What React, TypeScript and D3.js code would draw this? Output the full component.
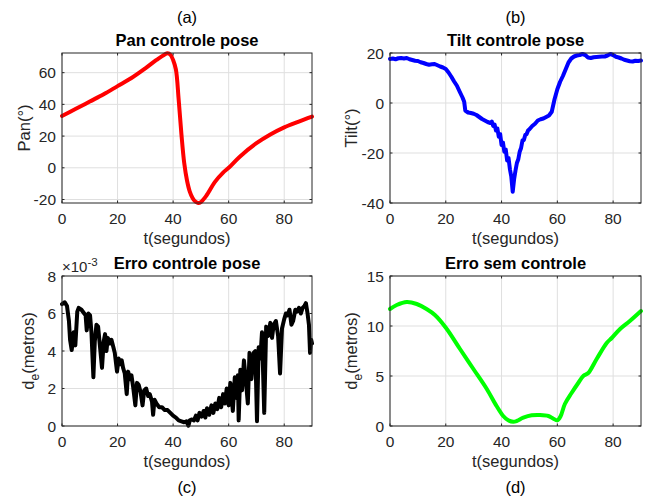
import * as React from "react";
import * as d3 from "d3";

// (a) pan angle, degrees
const panT = [0, 5, 10, 15, 20, 25, 30, 34, 37, 38, 39, 40, 41, 42, 43, 44, 45, 46, 47, 48, 49, 50, 52, 55, 58, 60, 64, 70, 75, 80, 85, 90];
const panV = [32.7, 37.2, 41.8, 46.4, 51.5, 56.6, 62.7, 68, 71.5, 72.2, 71.4, 68, 62, 43, 21, 3, -8, -15, -19, -21.3, -22.2, -21.6, -17.5, -9, -3, 0, 7, 15.5, 21, 25.5, 29, 32.3];

// (b) tilt angle, degrees
const tiltT = [0, 1, 2, 3, 4, 5, 6, 7, 8, 9, 10, 11, 12, 13, 14, 15, 16, 17, 18, 19, 20, 21, 22, 23, 24, 25, 26, 26.6, 27, 28, 29, 30, 31, 32, 33, 34, 35, 36, 36.5, 37, 37.5, 38, 38.5, 39, 39.5, 40, 40.5, 41, 41.5, 42, 42.5, 43, 43.5, 44, 44.5, 45, 45.5, 46, 46.5, 47, 47.5, 48, 48.5, 49, 49.5, 50, 51, 52, 53, 54, 55, 56, 57, 58, 59, 60, 61, 62, 63, 64, 65, 66, 67, 68, 69, 70, 71, 72, 73, 74, 75, 76, 77, 78, 79, 80, 81, 82, 83, 84, 85, 86, 87, 88, 89, 90];
const tiltV = [17.6, 17.8, 17.5, 17.9, 18.0, 17.8, 18.0, 17.5, 17.2, 16.9, 16.8, 16.3, 16.0, 15.6, 15.3, 15.5, 15.6, 15.1, 14.6, 14.2, 13.6, 12.2, 10.5, 8.6, 6.9, 4.5, 2.2, 0.5, -3.0, -3.8, -4.0, -4.3, -4.8, -5.6, -6.4, -7.0, -7.6, -8.0, -7.4, -9.2, -8.6, -11.0, -10.2, -13.5, -12.4, -16.8, -15.8, -19.5, -18.6, -23.0, -22.0, -26.5, -29.5, -35.5, -30.5, -27.0, -24.0, -22.5, -19.5, -18.0, -15.0, -14.8, -12.8, -12.4, -11.0, -10.5, -9.2, -8.3, -7.0, -6.5, -6.2, -5.6, -5.0, -3.5, 1.5, 5.5, 8.5, 10.8, 13.5, 16.2, 17.8, 18.6, 19.0, 19.2, 19.6, 19.2, 18.2, 18.0, 18.3, 18.4, 18.5, 18.6, 18.6, 19.0, 19.6, 19.2, 18.5, 18.2, 17.8, 17.3, 17.0, 16.7, 16.6, 16.9, 16.8, 17.0];

// (c) error with pose control, x10^-3 m
const erroT = [0, 1, 1.8, 2.5, 2.9, 3.5, 4.2, 4.8, 5.5, 6, 7, 8, 8.5, 8.9, 9.5, 10.1, 10.6, 11.3, 11.8, 12.4, 13, 13.7, 14.4, 15, 15.5, 16, 16.5, 17.2, 17.8, 18.5, 19, 19.8, 20.4, 21, 21.5, 22, 22.6, 23.3, 23.8, 24.5, 25, 25.6, 26.4, 27, 27.6, 28.3, 29, 29.6, 30.3, 31, 31.6, 32.4, 32.8, 33.3, 34, 35, 36, 37, 38, 39, 40, 41, 42, 43, 44, 44.8, 45.5, 46, 46.8, 47.5, 48.2, 48.8, 49.5, 50.3, 51, 51.6, 52.2, 53, 53.8, 54.5, 55.2, 55.9, 56.6, 57.3, 58, 58.6, 59.3, 60, 60.6, 61.5, 62.2, 62.8, 63.3, 63.6, 64.2, 64.8, 65.5, 66.2, 66.9, 67.5, 68.2, 69, 69.6, 70.2, 70.8, 71.4, 72, 72.8, 73.5, 74.2, 75, 75.6, 76.2, 77, 77.8, 78.5, 79.2, 80, 80.6, 81.2, 81.9, 82.6, 83.2, 84, 84.6, 85.3, 86, 86.6, 87.3, 87.8, 88.4, 88.9, 89.3, 89.7, 90];
const erroV = [6.5, 6.6, 6.4, 5.6, 4.6, 4.05, 5.0, 4.3, 6.1, 6.3, 6.2, 6.0, 5.9, 5.1, 6.0, 5.9, 5.0, 2.6, 4.5, 5.4, 5.3, 4.2, 3.1, 4.5, 4.9, 4.0, 4.7, 4.4, 4.6, 4.2, 3.9, 2.9, 3.6, 3.3, 3.5, 3.1, 2.8, 1.7, 2.9, 2.5, 2.7, 2.1, 1.1, 2.3, 2.2, 1.8, 1.1, 1.9, 2.0, 1.6, 1.7, 1.3, 0.6, 1.4, 1.2, 1.0, 1.0, 0.85, 0.85, 0.7, 0.55, 0.45, 0.3, 0.25, 0.2, 0.25, 0.02, 0.3, 0.35, 0.3, 0.55, 0.3, 0.7, 0.5, 0.8, 0.45, 0.95, 0.6, 1.1, 0.7, 1.2, 0.9, 1.5, 1.0, 1.7, 1.2, 2.0, 1.1, 2.3, 0.8, 2.6, 1.5, 2.7, 0.3, 3.0, 1.9, 3.5, 2.4, 1.2, 3.9, 2.5, 3.9, 4.0, 0.25, 4.2, 3.6, 5.0, 0.7, 5.3, 4.8, 5.5, 4.7, 5.4, 5.6, 4.8, 2.8, 5.2, 5.7, 6.0, 5.9, 6.2, 5.4, 5.6, 6.2, 6.1, 6.3, 6.0, 6.3, 6.4, 6.55, 6.0, 5.4, 3.9, 4.6, 4.4];

// (d) error without control, m
const semT = [0, 2.4, 6, 9.6, 13.1, 16.1, 20.1, 25.1, 29.9, 34.7, 38.2, 40.6, 42.4, 44.2, 45.4, 47.8, 50.8, 53.8, 56.8, 58.6, 60, 61.2, 62.7, 65.1, 67.5, 69.3, 71.1, 74.1, 77.7, 79.5, 82.5, 86, 90];
const semV = [11.7, 12.1, 12.4, 12.2, 11.7, 11.1, 9.8, 7.7, 5.7, 3.7, 2.0, 1.0, 0.57, 0.43, 0.5, 0.83, 1.07, 1.1, 1.0, 0.73, 0.57, 1.0, 2.2, 3.3, 4.3, 5.0, 5.3, 6.7, 8.3, 8.8, 9.7, 10.5, 11.5];

const xTicks = [0, 20, 40, 60, 80];

const FONT = "'Liberation Sans', Arial, Helvetica, sans-serif";
const AX = "#262626";

type PanelProps = {
  x0: number; x1: number; y0: number; y1: number;
  t: number[]; v: number[];
  yDomain: [number, number]; yTicks: number[];
  color: string; smooth: boolean;
  title: string; letter: string; letterTop: boolean;
  ylabel: React.ReactNode; ylabelX: number; exponent?: boolean;
};

function Panel(p: PanelProps) {
  const x = d3.scaleLinear().domain([0, 90]).range([p.x0, p.x1]);
  const y = d3.scaleLinear().domain(p.yDomain).range([p.y1, p.y0]);
  const line = d3.line<number>()
    .x((_, i) => x(p.t[i]))
    .y((d) => y(d))
    .curve(p.smooth ? d3.curveCatmullRom : d3.curveLinear);
  const cx = (p.x0 + p.x1) / 2;
  const cy = (p.y0 + p.y1) / 2;
  const tl = 2.5;
  return (
    <g fontFamily={FONT}>
      {xTicks.map((t) => (
        <line key={"gx" + t} x1={x(t)} x2={x(t)} y1={p.y0} y2={p.y1} stroke="#dfdfdf" strokeWidth={1} />
      ))}
      {p.yTicks.map((t) => (
        <line key={"gy" + t} x1={p.x0} x2={p.x1} y1={y(t)} y2={y(t)} stroke="#dfdfdf" strokeWidth={1} />
      ))}
      <path d={line(p.v) || ""} fill="none" stroke={p.color} strokeWidth={4} strokeLinejoin="round" strokeLinecap="round" />
      <rect x={p.x0} y={p.y0} width={p.x1 - p.x0} height={p.y1 - p.y0} fill="none" stroke={AX} strokeWidth={1} />
      {xTicks.map((t) => (
        <g key={"tx" + t}>
          <line x1={x(t)} x2={x(t)} y1={p.y1} y2={p.y1 - tl} stroke={AX} />
          <line x1={x(t)} x2={x(t)} y1={p.y0} y2={p.y0 + tl} stroke={AX} />
          <text x={x(t)} y={p.y1 + 21} textAnchor="middle" fontSize={15.5} fill={AX}>{t}</text>
        </g>
      ))}
      {p.yTicks.map((t) => (
        <g key={"ty" + t}>
          <line x1={p.x0} x2={p.x0 + tl} y1={y(t)} y2={y(t)} stroke={AX} />
          <line x1={p.x1} x2={p.x1 - tl} y1={y(t)} y2={y(t)} stroke={AX} />
          <text x={p.x0 - 6} y={y(t)} dy="0.36em" textAnchor="end" fontSize={15.5} fill={AX}>{t}</text>
        </g>
      ))}
      {p.exponent && (
        <text x={p.x0} y={p.y0 - 4} fontSize={15} fill={AX}>
          ×10<tspan dy={-6} fontSize={11.5}>-3</tspan>
        </text>
      )}
      <text x={cx} y={p.y0 - 7} textAnchor="middle" fontSize={16.5} fontWeight="bold" fill="#000">{p.title}</text>
      <text x={cx} y={p.y1 + 41} textAnchor="middle" fontSize={16.5} fill={AX}>t(segundos)</text>
      <text x={cx} y={p.letterTop ? p.y0 - 30 : p.y1 + 67} textAnchor="middle" fontSize={16.5} fill="#000">{p.letter}</text>
      <text transform={`translate(${p.ylabelX},${cy}) rotate(-90)`} textAnchor="middle" fontSize={16.5} fill={AX}>{p.ylabel}</text>
    </g>
  );
}

const deLabel = (
  <>
    <tspan>d</tspan>
    <tspan dy={5} fontSize={12}>e</tspan>
    <tspan dy={-5}>(metros)</tspan>
  </>
);

export default function App() {
  return (
    <svg width={649} height={500} style={{ position: "absolute", left: 0, top: 0, background: "#fff" }}>
      <rect width={649} height={500} fill="#fff" />
      <Panel x0={62} x1={312} y0={53} y1={203} t={panT} v={panV} yDomain={[-22.2, 72.4]} yTicks={[-20, 0, 20, 40, 60]}
        color="#ff0000" smooth title="Pan controle pose" letter="(a)" letterTop ylabel="Pan(°)" ylabelX={30} />
      <Panel x0={390} x1={641} y0={53} y1={203} t={tiltT} v={tiltV} yDomain={[-40, 20]} yTicks={[-40, -20, 0, 20]}
        color="#0000ff" smooth={false} title="Tilt controle pose" letter="(b)" letterTop ylabel="Tilt(°)" ylabelX={357} />
      <Panel x0={62} x1={312} y0={276} y1={426} t={erroT} v={erroV} yDomain={[0, 8]} yTicks={[0, 2, 4, 6, 8]}
        color="#000000" smooth={false} title="Erro controle pose" letter="(c)" letterTop={false} ylabel={deLabel} ylabelX={34} exponent />
      <Panel x0={390} x1={641} y0={276} y1={426} t={semT} v={semV} yDomain={[0, 15]} yTicks={[0, 5, 10, 15]}
        color="#00ff00" smooth title="Erro sem controle" letter="(d)" letterTop={false} ylabel={deLabel} ylabelX={357} />
    </svg>
  );
}
